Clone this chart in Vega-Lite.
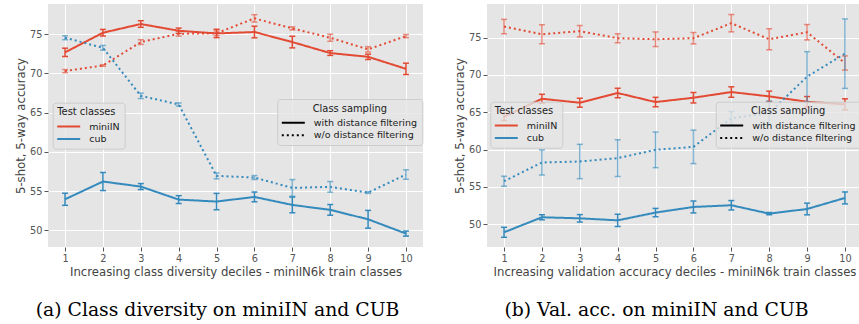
{
  "$schema": "https://vega.github.io/schema/vega-lite/v6.json",
  "padding": {"left": 15, "top": 4, "right": 0, "bottom": 0},
  "background": "white",
  "datasets": {
    "a": [
      {"decile": 1, "cls": "miniIN", "samp": "with distance filtering", "acc": 72.67, "err": 0.53},
      {"decile": 2, "cls": "miniIN", "samp": "with distance filtering", "acc": 75.17, "err": 0.42},
      {"decile": 3, "cls": "miniIN", "samp": "with distance filtering", "acc": 76.28, "err": 0.42},
      {"decile": 4, "cls": "miniIN", "samp": "with distance filtering", "acc": 75.42, "err": 0.34},
      {"decile": 5, "cls": "miniIN", "samp": "with distance filtering", "acc": 75.08, "err": 0.53},
      {"decile": 6, "cls": "miniIN", "samp": "with distance filtering", "acc": 75.26, "err": 0.74},
      {"decile": 7, "cls": "miniIN", "samp": "with distance filtering", "acc": 73.98, "err": 0.74},
      {"decile": 8, "cls": "miniIN", "samp": "with distance filtering", "acc": 72.58, "err": 0.3},
      {"decile": 9, "cls": "miniIN", "samp": "with distance filtering", "acc": 72.1, "err": 0.34},
      {"decile": 10, "cls": "miniIN", "samp": "with distance filtering", "acc": 70.57, "err": 0.72},
      {"decile": 1, "cls": "miniIN", "samp": "w/o distance filtering", "acc": 70.28, "err": 0.2},
      {"decile": 2, "cls": "miniIN", "samp": "w/o distance filtering", "acc": 71.0, "err": 0.1},
      {"decile": 3, "cls": "miniIN", "samp": "w/o distance filtering", "acc": 73.98, "err": 0.3},
      {"decile": 4, "cls": "miniIN", "samp": "w/o distance filtering", "acc": 75.04, "err": 0.3},
      {"decile": 5, "cls": "miniIN", "samp": "w/o distance filtering", "acc": 75.1, "err": 0.3},
      {"decile": 6, "cls": "miniIN", "samp": "w/o distance filtering", "acc": 77.0, "err": 0.47},
      {"decile": 7, "cls": "miniIN", "samp": "w/o distance filtering", "acc": 75.72, "err": 0.2},
      {"decile": 8, "cls": "miniIN", "samp": "w/o distance filtering", "acc": 74.53, "err": 0.45},
      {"decile": 9, "cls": "miniIN", "samp": "w/o distance filtering", "acc": 73.05, "err": 0.34},
      {"decile": 10, "cls": "miniIN", "samp": "w/o distance filtering", "acc": 74.74, "err": 0.2},
      {"decile": 1, "cls": "cub", "samp": "with distance filtering", "acc": 53.95, "err": 0.77},
      {"decile": 2, "cls": "cub", "samp": "with distance filtering", "acc": 56.21, "err": 1.15},
      {"decile": 3, "cls": "cub", "samp": "with distance filtering", "acc": 55.57, "err": 0.38},
      {"decile": 4, "cls": "cub", "samp": "with distance filtering", "acc": 53.91, "err": 0.5},
      {"decile": 5, "cls": "cub", "samp": "with distance filtering", "acc": 53.66, "err": 1.04},
      {"decile": 6, "cls": "cub", "samp": "with distance filtering", "acc": 54.25, "err": 0.62},
      {"decile": 7, "cls": "cub", "samp": "with distance filtering", "acc": 53.23, "err": 1.0},
      {"decile": 8, "cls": "cub", "samp": "with distance filtering", "acc": 52.6, "err": 0.68},
      {"decile": 9, "cls": "cub", "samp": "with distance filtering", "acc": 51.4, "err": 1.13},
      {"decile": 10, "cls": "cub", "samp": "with distance filtering", "acc": 49.58, "err": 0.32},
      {"decile": 1, "cls": "cub", "samp": "w/o distance filtering", "acc": 74.53, "err": 0.25},
      {"decile": 2, "cls": "cub", "samp": "w/o distance filtering", "acc": 73.25, "err": 0.3},
      {"decile": 3, "cls": "cub", "samp": "w/o distance filtering", "acc": 67.13, "err": 0.35},
      {"decile": 4, "cls": "cub", "samp": "w/o distance filtering", "acc": 66.03, "err": 0.2},
      {"decile": 5, "cls": "cub", "samp": "w/o distance filtering", "acc": 56.93, "err": 0.38},
      {"decile": 6, "cls": "cub", "samp": "w/o distance filtering", "acc": 56.72, "err": 0.25},
      {"decile": 7, "cls": "cub", "samp": "w/o distance filtering", "acc": 55.4, "err": 1.06},
      {"decile": 8, "cls": "cub", "samp": "w/o distance filtering", "acc": 55.53, "err": 0.68},
      {"decile": 9, "cls": "cub", "samp": "w/o distance filtering", "acc": 54.8, "err": 0.1},
      {"decile": 10, "cls": "cub", "samp": "w/o distance filtering", "acc": 57.1, "err": 0.6}
    ],
    "b": [
      {"decile": 1, "cls": "miniIN", "samp": "with distance filtering", "acc": 64.4, "err": 0.5},
      {"decile": 2, "cls": "miniIN", "samp": "with distance filtering", "acc": 66.81, "err": 0.6},
      {"decile": 3, "cls": "miniIN", "samp": "with distance filtering", "acc": 66.28, "err": 0.6},
      {"decile": 4, "cls": "miniIN", "samp": "with distance filtering", "acc": 67.58, "err": 0.63},
      {"decile": 5, "cls": "miniIN", "samp": "with distance filtering", "acc": 66.37, "err": 0.63},
      {"decile": 6, "cls": "miniIN", "samp": "with distance filtering", "acc": 66.95, "err": 0.7},
      {"decile": 7, "cls": "miniIN", "samp": "with distance filtering", "acc": 67.71, "err": 0.7},
      {"decile": 8, "cls": "miniIN", "samp": "with distance filtering", "acc": 67.13, "err": 0.7},
      {"decile": 9, "cls": "miniIN", "samp": "with distance filtering", "acc": 66.41, "err": 0.7},
      {"decile": 10, "cls": "miniIN", "samp": "with distance filtering", "acc": 66.06, "err": 0.74},
      {"decile": 1, "cls": "miniIN", "samp": "w/o distance filtering", "acc": 76.48, "err": 0.96},
      {"decile": 2, "cls": "miniIN", "samp": "w/o distance filtering", "acc": 75.45, "err": 1.27},
      {"decile": 3, "cls": "miniIN", "samp": "w/o distance filtering", "acc": 75.86, "err": 0.76},
      {"decile": 4, "cls": "miniIN", "samp": "w/o distance filtering", "acc": 74.92, "err": 0.6},
      {"decile": 5, "cls": "miniIN", "samp": "w/o distance filtering", "acc": 74.78, "err": 0.98},
      {"decile": 6, "cls": "miniIN", "samp": "w/o distance filtering", "acc": 74.92, "err": 0.76},
      {"decile": 7, "cls": "miniIN", "samp": "w/o distance filtering", "acc": 76.93, "err": 1.16},
      {"decile": 8, "cls": "miniIN", "samp": "w/o distance filtering", "acc": 74.78, "err": 1.41},
      {"decile": 9, "cls": "miniIN", "samp": "w/o distance filtering", "acc": 75.72, "err": 1.03},
      {"decile": 10, "cls": "miniIN", "samp": "w/o distance filtering", "acc": 71.6, "err": 0.95},
      {"decile": 1, "cls": "cub", "samp": "with distance filtering", "acc": 48.93, "err": 0.67},
      {"decile": 2, "cls": "cub", "samp": "with distance filtering", "acc": 50.94, "err": 0.34},
      {"decile": 3, "cls": "cub", "samp": "with distance filtering", "acc": 50.8, "err": 0.5},
      {"decile": 4, "cls": "cub", "samp": "with distance filtering", "acc": 50.53, "err": 0.83},
      {"decile": 5, "cls": "cub", "samp": "with distance filtering", "acc": 51.57, "err": 0.56},
      {"decile": 6, "cls": "cub", "samp": "with distance filtering", "acc": 52.32, "err": 0.8},
      {"decile": 7, "cls": "cub", "samp": "with distance filtering", "acc": 52.55, "err": 0.63},
      {"decile": 8, "cls": "cub", "samp": "with distance filtering", "acc": 51.43, "err": 0.15},
      {"decile": 9, "cls": "cub", "samp": "with distance filtering", "acc": 52.05, "err": 0.78},
      {"decile": 10, "cls": "cub", "samp": "with distance filtering", "acc": 53.53, "err": 0.8},
      {"decile": 1, "cls": "cub", "samp": "w/o distance filtering", "acc": 55.77, "err": 0.67},
      {"decile": 2, "cls": "cub", "samp": "w/o distance filtering", "acc": 58.28, "err": 1.68},
      {"decile": 3, "cls": "cub", "samp": "w/o distance filtering", "acc": 58.41, "err": 2.3},
      {"decile": 4, "cls": "cub", "samp": "w/o distance filtering", "acc": 58.86, "err": 2.46},
      {"decile": 5, "cls": "cub", "samp": "w/o distance filtering", "acc": 59.97, "err": 2.39},
      {"decile": 6, "cls": "cub", "samp": "w/o distance filtering", "acc": 60.37, "err": 2.24},
      {"decile": 7, "cls": "cub", "samp": "w/o distance filtering", "acc": 64.2, "err": 0.9},
      {"decile": 8, "cls": "cub", "samp": "w/o distance filtering", "acc": 64.9, "err": 1.6},
      {"decile": 9, "cls": "cub", "samp": "w/o distance filtering", "acc": 69.77, "err": 3.35},
      {"decile": 10, "cls": "cub", "samp": "w/o distance filtering", "acc": 72.85, "err": 4.65}
    ]
  },
  "hconcat": [
    {
      "width": 375,
      "height": 243,
      "data": {"name": "a"},
      "title": {"text": "(a) Class diversity on miniIN and CUB", "orient": "bottom", "font": "DejaVu Serif", "fontSize": 18.8, "fontWeight": "normal", "color": "black", "offset": 23, "dx": -18},
      "layer": [
        {
          "mark": {"type": "line", "strokeWidth": 2},
          "encoding": {
            "x": {"field": "decile", "type": "quantitative", "scale": {"domain": [0.55, 10.45], "nice": false, "zero": false}, "axis": {"values": [1,2,3,4,5,6,7,8,9,10], "title": "Increasing class diversity deciles - miniIN6k train classes"}},
            "y": {"field": "acc", "type": "quantitative", "scale": {"domain": [47.87, 78.83], "nice": false, "zero": false}, "axis": {"values": [50,55,60,65,70,75], "title": "5-shot, 5-way accuracy"}},
            "color": {"field": "cls", "type": "nominal", "scale": {"domain": ["miniIN", "cub"], "range": ["#E24A33", "#348ABD"]}, "legend": {"title": "Test classes", "orient": "none", "legendX": 4.7, "legendY": 98.7}},
            "strokeDash": {"field": "samp", "type": "nominal", "scale": {"domain": ["with distance filtering", "w/o distance filtering"], "range": [[1, 0], [2, 3]]}, "legend": {"title": "Class sampling", "orient": "none", "legendX": 229.3, "legendY": 95, "titleAnchor": "middle", "symbolStrokeColor": "black"}}
          }
        },
        {
          "mark": {"type": "errorbar", "ticks": {"size": 6, "thickness": 1.5}, "thickness": 1.5},
          "encoding": {
            "x": {"field": "decile", "type": "quantitative", "scale": {"domain": [0.55, 10.45], "nice": false, "zero": false}, "axis": {"values": [1,2,3,4,5,6,7,8,9,10], "title": "Increasing class diversity deciles - miniIN6k train classes"}},
            "y": {"field": "acc", "type": "quantitative", "scale": {"domain": [47.87, 78.83], "nice": false, "zero": false}, "axis": {"values": [50,55,60,65,70,75], "title": "5-shot, 5-way accuracy"}},
            "yError": {"field": "err"},
            "color": {"field": "cls", "type": "nominal", "legend": null},
            "opacity": {"field": "samp", "type": "nominal", "scale": {"domain": ["with distance filtering", "w/o distance filtering"], "range": [1, 0.6]}, "legend": null}
          }
        }
      ]
    },
    {
      "width": 375,
      "height": 243,
      "data": {"name": "b"},
      "title": {"text": "(b) Val. acc. on miniIN and CUB", "orient": "bottom", "font": "DejaVu Serif", "fontSize": 18.8, "fontWeight": "normal", "color": "black", "offset": 23, "dx": -18},
      "layer": [
        {
          "mark": {"type": "line", "strokeWidth": 2},
          "encoding": {
            "x": {"field": "decile", "type": "quantitative", "scale": {"domain": [0.55, 10.45], "nice": false, "zero": false}, "axis": {"values": [1,2,3,4,5,6,7,8,9,10], "title": "Increasing validation accuracy deciles - miniIN6k train classes"}},
            "y": {"field": "acc", "type": "quantitative", "scale": {"domain": [46.96, 79.5], "nice": false, "zero": false}, "axis": {"values": [50,55,60,65,70,75], "title": "5-shot, 5-way accuracy"}},
            "color": {"field": "cls", "type": "nominal", "scale": {"domain": ["miniIN", "cub"], "range": ["#E24A33", "#348ABD"]}, "legend": {"title": "Test classes", "orient": "none", "legendX": 3.3, "legendY": 97.7}},
            "strokeDash": {"field": "samp", "type": "nominal", "scale": {"domain": ["with distance filtering", "w/o distance filtering"], "range": [[1, 0], [2, 3]]}, "legend": {"title": "Class sampling", "orient": "none", "legendX": 228.7, "legendY": 97.7, "titleAnchor": "middle", "symbolStrokeColor": "black"}}
          }
        },
        {
          "mark": {"type": "errorbar", "ticks": {"size": 6, "thickness": 1.5}, "thickness": 1.5},
          "encoding": {
            "x": {"field": "decile", "type": "quantitative", "scale": {"domain": [0.55, 10.45], "nice": false, "zero": false}, "axis": {"values": [1,2,3,4,5,6,7,8,9,10], "title": "Increasing validation accuracy deciles - miniIN6k train classes"}},
            "y": {"field": "acc", "type": "quantitative", "scale": {"domain": [46.96, 79.5], "nice": false, "zero": false}, "axis": {"values": [50,55,60,65,70,75], "title": "5-shot, 5-way accuracy"}},
            "yError": {"field": "err"},
            "color": {"field": "cls", "type": "nominal", "legend": null},
            "opacity": {"field": "samp", "type": "nominal", "scale": {"domain": ["with distance filtering", "w/o distance filtering"], "range": [1, 0.6]}, "legend": null}
          }
        }
      ]
    }
  ],
  "spacing": 31,
  "resolve": {"scale": {"y": "independent", "x": "independent"}, "legend": {"color": "independent", "strokeDash": "independent"}},
  "config": {
    "view": {"fill": "#E5E5E5", "stroke": null},
    "axis": {"gridColor": "white", "gridWidth": 1, "domain": false, "tickColor": "#555555", "tickSize": 4, "tickWidth": 1, "labelColor": "#555555", "labelFontSize": 9.75, "labelFont": "DejaVu Sans", "titleFont": "DejaVu Sans", "titleFontSize": 11.7, "titleColor": "#444444", "titleFontWeight": "normal", "labelPadding": 2},
    "axisY": {"titlePadding": 3},
    "axisX": {"titlePadding": 4},
    "legend": {"fillColor": "rgba(229,229,229,0.8)", "strokeColor": "#CCCCCC", "cornerRadius": 3, "padding": 4.5, "symbolType": "M-2,0H2", "symbolSize": 132, "symbolOffset": 4.5, "symbolStrokeWidth": 2, "labelFontSize": 9.5, "titleFontSize": 9.9, "titleFontWeight": "normal", "labelFont": "DejaVu Sans", "titleFont": "DejaVu Sans", "labelColor": "#222222", "titleColor": "#222222", "rowPadding": 0.5, "labelOffset": 13.5, "titlePadding": 2.4}
  }
}
